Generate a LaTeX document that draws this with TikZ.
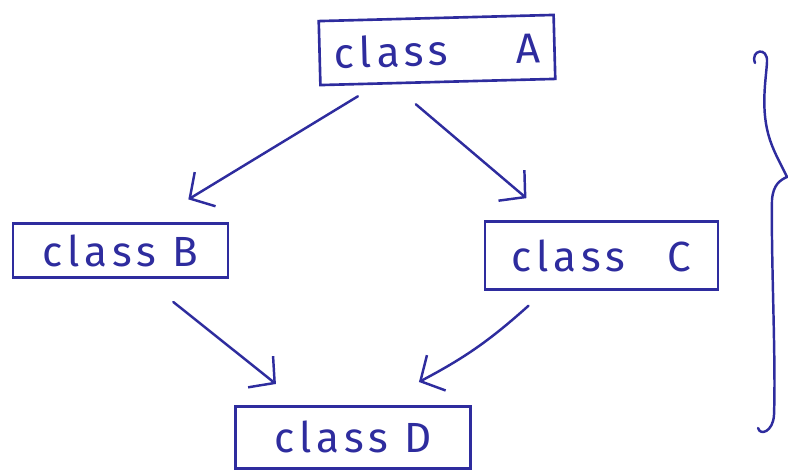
\documentclass[tikz,border=0pt]{standalone}
\usepackage{fontspec}
\newfontfamily\hand{Fira Sans}[LetterSpace=12]
\usetikzlibrary{positioning, arrows.meta}
\definecolor{ink}{RGB}{46,44,158}
\tikzstyle{base} = [rectangle, draw=ink, line width=1.5pt, text=ink, inner sep=0pt, text centered, font=\hand\fontsize{24}{28}\selectfont]
\tikzstyle{cls} = [base, minimum width=4.7cm, minimum height=1.26cm]
\tikzstyle{link} = [draw=ink, line width=1.4pt, line cap=round, -{Straight Barb[length=3.6mm, width=8mm, line width=1.4pt]}]

\begin{document}
\begin{tikzpicture}[x=0.02cm, y=-0.02cm]
\useasboundingbox (0,0) rectangle (788,470);

\node (CLASS_A) [cls, minimum height=1.28cm, rotate=1.5] at (437,50) {class\hspace{1.6em}A};
\node (CLASS_B) [cls, minimum width=4.3cm, minimum height=1.08cm, below left=2.72cm and 1.8cm of CLASS_A] {class B};
\node (CLASS_C) [cls, minimum width=4.66cm, minimum height=1.36cm, below right=2.8cm and -1.46cm of CLASS_A] {class\hspace{1em}C};
\node (CLASS_D) [cls, minimum height=1.24cm, below right=2.52cm and 0.1cm of CLASS_B] {class D};

\draw [link] ([shift={(-80,13)}]CLASS_A.south) -- ([shift={(68,-23)}]CLASS_B.north);
\draw [link] ([shift={(-22,21)}]CLASS_A.south) -- ([shift={(-75,-22)}]CLASS_C.north);
\draw [link] ([shift={(53,23)}]CLASS_B.south) -- ([shift={(-77,-21)}]CLASS_D.north);
\draw [link] ([shift={(-73,15)}]CLASS_C.south) to[bend left=7] ([shift={(66,-23)}]CLASS_D.north);

% brace on the right
\draw [ink, line width=1.4pt, line cap=round]
  (755,63) .. controls (750,50) and (768,46) .. (767,62)
  .. controls (766,80) and (760,110) .. (770,140)
  .. controls (775,155) and (783,168) .. (787,177)
  .. controls (780,180) and (773,185) .. (772,200)
  .. controls (771,260) and (776,360) .. (774,415)
  .. controls (773,432) and (760,436) .. (758,428);

\end{tikzpicture}
\end{document}
